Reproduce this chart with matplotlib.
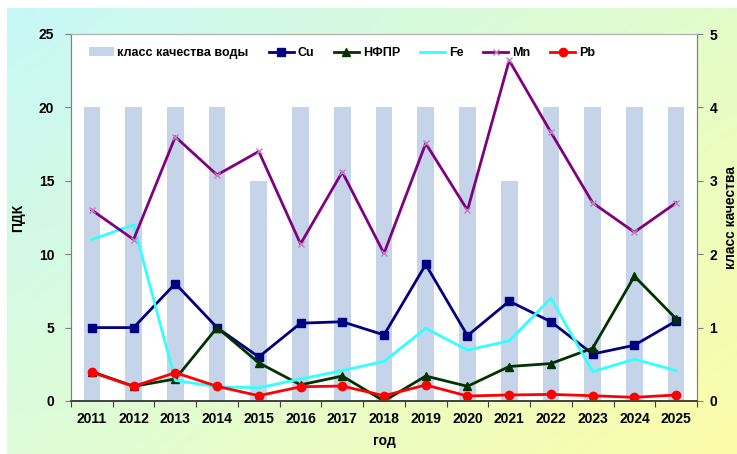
import numpy as np
import matplotlib
matplotlib.use("Agg")
import matplotlib.pyplot as plt

years = ["2011", "2012", "2013", "2014", "2015", "2016", "2017", "2018",
         "2019", "2020", "2021", "2022", "2023", "2024", "2025"]
water_class = [4, 4, 4, 4, 3, 4, 4, 4, 4, 4, 3, 4, 4, 4, 4]
cu = [5.0, 5.0, 8.0, 5.0, 3.0, 5.3, 5.4, 4.5, 9.3, 4.45, 6.8, 5.4, 3.2, 3.8, 5.45]
nfpr = [2.0, 1.0, 1.5, 5.0, 2.6, 1.1, 1.7, 0.0, 1.7, 1.0, 2.35, 2.55, 3.6, 8.5, 5.6]
fe = [11.0, 12.0, 1.4, 0.97, 0.9, 1.5, 2.07, 2.7, 4.95, 3.47, 4.1, 7.0, 2.0, 2.85, 2.07]
mn = [13.0, 11.0, 18.0, 15.4, 17.0, 10.7, 15.6, 10.05, 17.55, 13.0, 23.2, 18.3, 13.5, 11.5, 13.5]
pb = [1.95, 1.0, 1.93, 1.0, 0.36, 0.97, 1.02, 0.36, 1.09, 0.34, 0.41, 0.45, 0.36, 0.25, 0.41]

plt.rcParams['font.family'] = ['Liberation Sans', 'DejaVu Sans']
plt.rcParams['font.weight'] = 'bold'

W, H = 737, 454
fig = plt.figure(figsize=(W / 100, H / 100), dpi=100)
fig.patch.set_facecolor('white')

# gradient background
bg = fig.add_axes([7 / W, 0, (W - 7) / W, (H - 8) / H], zorder=-10)
tl = np.array([0.78, 0.97, 0.97])
tr = np.array([0.89, 0.99, 0.79])
bl = np.array([0.87, 0.99, 0.85])
br = np.array([0.99, 0.99, 0.66])
u = np.linspace(0, 1, 200)[None, :, None]
v = np.linspace(0, 1, 120)[:, None, None]
img = (1 - v) * ((1 - u) * tl + u * tr) + v * ((1 - u) * bl + u * br)
bg.imshow(img, aspect='auto', extent=[0, 1, 0, 1], interpolation='bilinear')
bg.axis('off')

left, right = 71 / W, 697 / W
bottom, top = 1 - 401 / H, 1 - 34 / H
ax = fig.add_axes([left, bottom, right - left, top - bottom])
ax.set_facecolor('white')
x = np.arange(len(years))

# bars on the right (class) axis
bars = ax.bar(x, water_class, width=0.4, color='#c6d4ea', zorder=1,
              label='класс качества воды')
ax.set_ylim(0, 5)
ax.set_xlim(-0.5, len(years) - 0.5)

# lines on the left (ПДК) axis
axl = ax.twinx()
axl.yaxis.tick_left()
axl.yaxis.set_label_position('left')
ax.yaxis.tick_right()
ax.yaxis.set_label_position('right')
ax.set_yticks([0, 1, 2, 3, 4, 5])
ax.set_ylabel('класс качества', fontsize=10, fontweight='bold',
              rotation=90, ha='center', va='center')
ax.yaxis.set_label_coords(1.054, 0.5)

axl.set_ylim(0, 25)
axl.set_yticks([0, 5, 10, 15, 20, 25])
axl.set_ylabel('ПДК', fontsize=10, fontweight='bold', labelpad=10)

l_cu, = axl.plot(x, cu, color='#000080', lw=2, marker='s', ms=6, label='Cu')
l_nf, = axl.plot(x, nfpr, color='#003300', lw=2, marker='^', ms=6, label='НФПР')
l_fe, = axl.plot(x, fe, color='#33ffff', lw=2, label='Fe')
l_mn, = axl.plot(x, mn, color='#800080', lw=2, marker='x', ms=5,
                 mec='#c080c0', label='Mn')
l_pb, = axl.plot(x, pb, color='#ff0000', lw=2, marker='o', ms=6, label='Pb')

ax.set_xticks(np.arange(-0.5, len(years), 1.0), minor=False)
ax.set_xticklabels([])
ax.set_xticks(x, minor=True)
ax.set_xticklabels(years, minor=True, fontsize=10, fontweight='bold')
ax.tick_params(axis='x', which='minor', length=0, pad=8)
ax.tick_params(axis='x', which='major', length=4, color='#404040')
ax.set_xlabel('год', fontsize=10, fontweight='bold', labelpad=6)

for a in (ax, axl):
    for s in a.spines.values():
        s.set_color('#808080')
        s.set_linewidth(0.8)
    a.spines['bottom'].set_color('#404040')
    a.spines['bottom'].set_linewidth(1.2)
    a.spines['top'].set_color('#b0b0b0')
ax.tick_params(axis='y', length=4, color='#808080', labelsize=10, pad=5)
axl.tick_params(axis='y', length=4, color='#808080', labelsize=10, pad=8)
for t in ax.get_yticklabels() + axl.get_yticklabels():
    t.set_fontweight('bold')

leg = axl.legend(handles=[bars, l_cu, l_nf, l_fe, l_mn, l_pb], ncol=6,
                 loc='upper left', bbox_to_anchor=(0.01, 0.995), frameon=False,
                 fontsize=9, handlelength=2.0, handletextpad=0.3,
                 columnspacing=1.6)
for t in leg.get_texts():
    t.set_fontweight('bold')

fig.savefig('out.png', dpi=100)
